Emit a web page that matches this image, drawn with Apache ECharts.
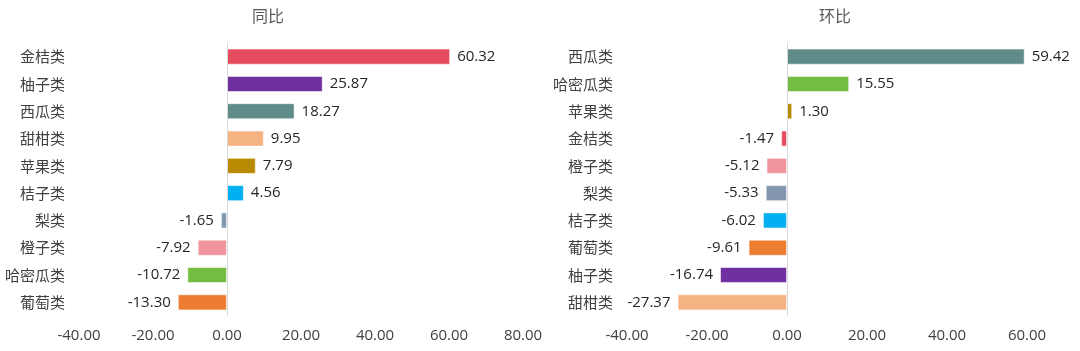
<!DOCTYPE html>
<html><head><meta charset="utf-8">
<script src="https://cdn.jsdelivr.net/npm/echarts@6/dist/echarts.min.js"></script>
<style>html,body{margin:0;padding:0;background:#fff}#c{width:1080px;height:351px}</style>
</head><body><div id="c"></div>
<script>
const leftTitle = '同比';
const leftCategories = ['金桔类','柚子类','西瓜类','甜柑类','苹果类','桔子类','梨类','橙子类','哈密瓜类','葡萄类'];
const leftValues = [60.32, 25.87, 18.27, 9.95, 7.79, 4.56, -1.65, -7.92, -10.72, -13.30];
const rightTitle = '环比';
const rightCategories = ['西瓜类','哈密瓜类','苹果类','金桔类','橙子类','梨类','桔子类','葡萄类','柚子类','甜柑类'];
const rightValues = [59.42, 15.55, 1.30, -1.47, -5.12, -5.33, -6.02, -9.61, -16.74, -27.37];
const fruitColors = {
  '金桔类':'#E64C5F','柚子类':'#7030A0','西瓜类':'#5F8B89','甜柑类':'#F6B382','苹果类':'#B88A00',
  '桔子类':'#00B0F0','梨类':'#8497B0','橙子类':'#F0959E','哈密瓜类':'#74BC42','葡萄类':'#ED7D31'
};
const FONT = '"Open Sans", "Noto Sans CJK SC", sans-serif';
const CJK = '"Noto Sans CJK SC", sans-serif';

function mkData(cats, vals){
  return vals.map((v,i)=>({
    value: v,
    itemStyle: {color: fruitColors[cats[i]]},
    label: {position: v >= 0 ? 'right' : 'left'}
  }));
}
function xAxis(idx, min, max){
  return {gridIndex: idx, type:'value', min, max, interval:20,
    axisLine:{show:false}, axisTick:{show:false}, splitLine:{show:false},
    axisLabel:{color:'#404040', fontSize:15, fontFamily:FONT, margin:12, formatter: v=>v.toFixed(2)}};
}
function yAxis(idx, cats){
  return {gridIndex: idx, type:'category', data: cats, inverse:true,
    axisLine:{show:false}, axisTick:{show:false},
    axisLabel:{color:'#404040', fontSize:15, fontFamily:CJK, margin:14}};
}
function series(idx, cats, vals){
  return {type:'bar', xAxisIndex: idx, yAxisIndex: idx, data: mkData(cats, vals),
    barCategoryGap:'41%',
    itemStyle:{borderColor:'rgba(255,255,255,0.55)', borderWidth:1},
    label:{show:true, distance:7, color:'#262626', fontSize:15, fontFamily:FONT, formatter: p=>p.value.toFixed(2)},
    markLine:{silent:true, symbol:'none', label:{show:false}, lineStyle:{color:'#d9d9d9', type:'solid', width:1},
      data:[{xAxis:0}]},
    animation:false};
}
const chart = echarts.init(document.getElementById('c'));
chart.setOption({
  animation:false,
  title:[
    {text:leftTitle, left:263, top:3, textAlign:'center', textStyle:{color:'#595959', fontSize:16, fontWeight:'normal', fontFamily:CJK}},
    {text:rightTitle, left:830, top:3, textAlign:'center', textStyle:{color:'#595959', fontSize:16, fontWeight:'normal', fontFamily:CJK}}
  ],
  grid:[
    {left:79, right:557, top:43, height:273},
    {left:627, right:53, top:43, height:273}
  ],
  xAxis:[xAxis(0,-40,80), xAxis(1,-40,60)],
  yAxis:[yAxis(0,leftCategories), yAxis(1,rightCategories)],
  series:[series(0,leftCategories,leftValues), series(1,rightCategories,rightValues)]
});
</script></body></html>
